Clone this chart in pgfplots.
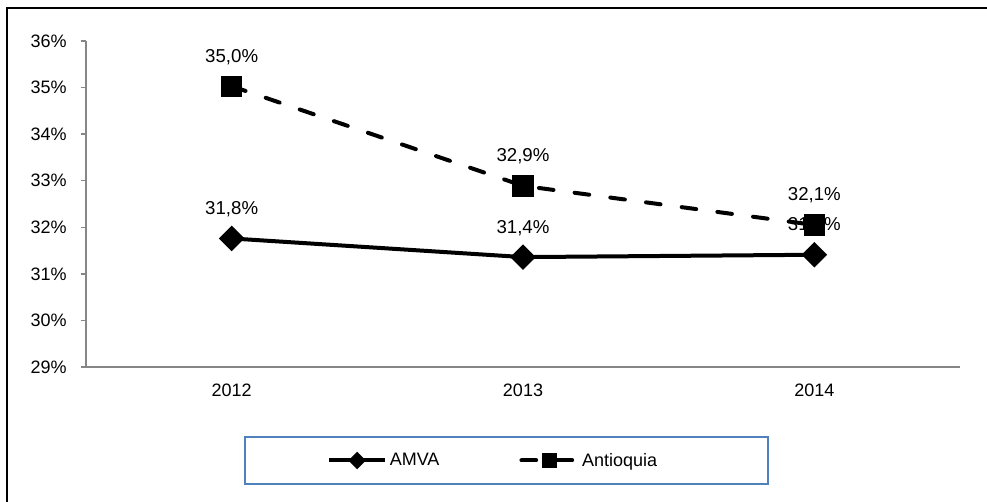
\documentclass[border=0pt]{standalone}
\usepackage{fontspec}
\setmainfont{Liberation Sans}
\usepackage{pgfplots}
\usepackage{pgfplotstable}
\pgfplotsset{compat=1.18}
\definecolor{axgray}{RGB}{134,134,134}
\definecolor{legblue}{RGB}{79,129,189}
\pgfplotstableread{
x y lab
0 31.76 31,8
1 31.36 31,4
2 31.41 31,4
}\amva
\pgfplotstableread{
x y lab
0 35.03 35,0
1 32.89 32,9
2 32.05 32,1
}\antioquia
\begin{document}
\begin{tikzpicture}[x=1pt,y=1pt]
\useasboundingbox (0,0) rectangle (740.25,376.5);
\draw[black, line width=0.8pt] (5.25,0) -- (5.25,370.5) -- (740.25,370.5);
\begin{axis}[
  at={(64.5pt,101.25pt)}, anchor=south west,
  scale only axis, width=655.5pt, height=244.5pt,
  xmin=-0.5, xmax=2.5, ymin=29, ymax=36,
  axis x line*=bottom, axis y line*=left,
  axis line style={axgray, line width=1pt, -},
  tick align=outside,
  major tick style={axgray, line width=1pt},
  major tick length=4pt,
  xtick={0,1,2}, xticklabels={2012,2013,2014},
  x tick style={draw=none},
  extra x ticks={-0.5,0.5,1.5,2.5},
  extra x tick labels={},
  extra x tick style={major tick style={axgray, line width=1pt, draw=axgray}},
  ytick={29,30,...,36},
  yticklabel={\pgfmathprintnumber{\tick}\%},
  /pgf/number format/assume math mode=true,
  tick label style={font=\fontsize{13.5}{16}\selectfont, black},
  xticklabel style={yshift=-5pt},
  yticklabel style={xshift=-7pt},
  clip=false,
  legend columns=2,
  legend style={at={(rel axis cs:0.271,-0.2868)}, anchor=west, draw=none, fill=none,
    font=\fontsize{13.5}{16}\selectfont,
    /tikz/every even column/.append style={column sep=58pt}},
  legend image code/.code={\draw[#1, mark repeat=2, mark phase=2, every mark/.append style={scale=0.6}] plot coordinates {(0pt,0pt)(21pt,0pt)(42pt,0pt)};},
  nodes near coords={\pgfplotspointmeta\%},
  every node near coord/.append style={font=\fontsize{14}{16}\selectfont, black, anchor=center, yshift=22pt},
]
\addplot[black, line width=3pt, mark=square*, mark size=5.3pt, mark options={rotate=45, solid},
  point meta=explicit symbolic] table[x=x, y=y, meta=lab] {\amva};
\addlegendentry{AMVA}
\addplot[black, line width=3pt, line cap=round, dash pattern=on 11pt off 16pt, mark=square*, mark size=6.5pt, mark options={solid},
  point meta=explicit symbolic] table[x=x, y=y, meta=lab] {\antioquia};
\addlegendentry{Antioquia}
\draw[legblue, line width=1pt] (rel axis cs:0.1819,-0.2147) rectangle (rel axis cs:0.7803,-0.3589);
\end{axis}
\end{tikzpicture}
\end{document}
